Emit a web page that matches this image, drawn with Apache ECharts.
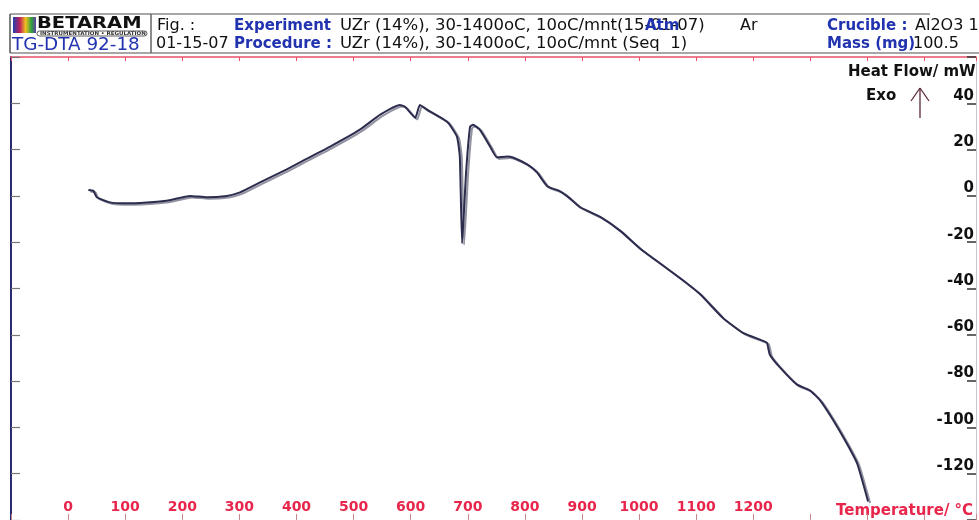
<!DOCTYPE html>
<html>
<head>
<meta charset="utf-8">
<script src="https://cdn.jsdelivr.net/npm/echarts@6/dist/echarts.min.js"></script>
<style>
html,body{margin:0;padding:0;background:#fff;}
#chart{width:979px;height:520px;}
</style>
</head>
<body>
<div id="chart"></div>
<script>
// Temperature (°C) and heat flow (mW)
const temps = [35.5, 44.3, 50.3, 73.5, 102.8, 137.8, 172.8, 213.6, 242.9, 277.9, 301.2, 336.2, 383,
  406, 459, 511, 546, 581, 590, 608, 616, 629, 664, 681, 686, 690, 697, 704, 709, 721, 739, 751,
  769, 779, 804, 821, 839, 861, 874, 896, 932, 967, 1002, 1037, 1072, 1107, 1147, 1182, 1217, 1224,
  1229, 1247, 1276, 1299, 1317, 1340, 1364, 1382, 1401];
const heatFlow = [2.6, 2.2, -0.6, -2.8, -3.2, -2.8, -2.1, 0.0, -0.6, 0.0, 1.5, 5.8, 11.5,
  14.5, 21.3, 28.6, 35.0, 39.3, 38.5, 33.7, 39.3, 37.2, 32.0, 25.6, 17.0, -20.5, 10.2, 29.9, 30.7, 28.6, 21.3, 16.6,
  17.0, 16.6, 13.6, 10.2, 4.2, 2.1, -0.1, -4.8, -9.1, -15.1, -22.8, -29.2, -35.6, -42.5, -52.8, -59.2, -62.6, -63.5,
  -68.6, -74.2, -81.4, -84.0, -88.3, -96.9, -107.1, -115.7, -132];
const xTickLabels = [0, 100, 200, 300, 400, 500, 600, 700, 800, 900, 1000, 1100, 1200];
const yTickLabels = [40, 20, 0, -20, -40, -60, -80, -100, -120];

const RED = '#e8264c';
const BLUE = '#2233b0';
const FONT = 'DejaVu Sans';

const chart = echarts.init(document.getElementById('chart'), null, {renderer: 'canvas'});

function txt(x, y, text, opts, scaleX) {
  return {
    type: 'text', x: x, y: y, scaleX: scaleX || 1,
    style: Object.assign({text: text, fill: '#111', font: '15px "' + FONT + '"', verticalAlign: 'middle', align: 'left'}, opts || {})
  };
}
function line(x1, y1, x2, y2, color, w) {
  return {type: 'line', shape: {x1: x1, y1: y1, x2: x2, y2: y2}, style: {stroke: color, lineWidth: w || 1}};
}
const boldF = 'bold 15px "' + FONT + '"';
const normF = '16px "' + FONT + '"';

const option = {
  animation: false,
  backgroundColor: '#fff',
  grid: {left: 11, top: 57, width: 965, height: 467, containLabel: false},
  xAxis: [
    {
      type: 'value', position: 'bottom', min: -100, max: 1590, interval: 100,
      axisLine: {show: false, onZero: false},
      axisTick: {show: true, inside: true, length: 6, lineStyle: {color: '#c88', width: 1}},
      axisLabel: {
        inside: true, margin: 6, color: RED, fontWeight: 'bold', fontSize: 14, fontFamily: FONT,
        formatter: v => xTickLabels.indexOf(v) >= 0 ? String(v) : ''
      },
      splitLine: {show: false}
    },
    {
      type: 'value', position: 'top', min: -100, max: 1590, interval: 100,
      axisLine: {show: true, onZero: false, lineStyle: {color: '#e8506a', width: 1.5}},
      axisTick: {show: true, inside: true, length: 4, lineStyle: {color: '#e8506a'}},
      axisLabel: {show: false},
      splitLine: {show: false}
    }
  ],
  yAxis: [
    {
      type: 'value', position: 'right', min: -140, max: 60, interval: 20,
      axisLine: {show: true, onZero: false, lineStyle: {color: '#c8c8d0', width: 1}},
      axisTick: {show: true, inside: true, length: 9, lineStyle: {color: '#333', width: 1.5}},
      axisLabel: {
        inside: true, margin: 2, color: '#111', fontWeight: 'bold', fontSize: 15, fontFamily: FONT,
        verticalAlign: 'bottom',
        formatter: v => yTickLabels.indexOf(v) >= 0 ? String(v) : ''
      },
      splitLine: {show: false}
    },
    {
      type: 'value', position: 'left', min: -140, max: 60, interval: 20,
      axisLine: {show: true, onZero: false, lineStyle: {color: '#2a2a6e', width: 2}},
      axisTick: {show: true, inside: true, length: 9, lineStyle: {color: '#777', width: 1.2}},
      axisLabel: {show: false},
      splitLine: {show: false}
    }
  ],
  series: [{
    type: 'line', xAxisIndex: 0, yAxisIndex: 0,
    data: temps.map((t, i) => [t, heatFlow[i]]),
    showSymbol: false, smooth: 0.15,
    lineStyle: {color: '#2c2c4e', width: 2, shadowColor: 'rgba(110,110,130,0.75)', shadowBlur: 0, shadowOffsetX: 2, shadowOffsetY: 1.5}
  }],
  graphic: [
    // header frame
    line(10, 14, 930, 14, '#8a8a8a', 1.5),
    line(10, 53, 979, 53, '#8a8a8a', 1.5),
    line(10, 14, 10, 53, '#555', 1.5),
    line(151, 14, 151, 53, '#666', 1.5),
    {
      type: 'rect', shape: {x: 13, y: 17, width: 23, height: 16},
      style: {fill: new echarts.graphic.LinearGradient(0, 0, 1, 0, [
        {offset: 0, color: '#1e3fb0'}, {offset: 0.3, color: '#c0205a'}, {offset: 0.55, color: '#f0c020'},
        {offset: 0.8, color: '#30a040'}, {offset: 1, color: '#6040a0'}])}
    },
    txt(37, 24, 'BETARAM', {font: 'bold 15px "' + FONT + '"', fill: '#111'}, 1.3),
    {type: 'rect', shape: {x: 37, y: 31, width: 110, height: 5, r: 2.5}, style: {fill: 'none', stroke: '#333', lineWidth: 0.8}},
    txt(40, 33.5, 'INSTRUMENTATION • REGULATION', {font: 'bold 5px "' + FONT + '"', fill: '#333'}, 1.1),
    txt(12, 46, 'TG-DTA 92-18', {font: '17px "' + FONT + '"', fill: BLUE}, 1.08),
    // row 1
    txt(157, 26, 'Fig. :', {font: normF}),
    txt(234, 26, 'Experiment', {font: boldF, fill: BLUE}),
    txt(340, 26, 'UZr (14%), 30-1400oC, 10oC/mnt(15-01-07)', {font: normF}, 1.03),
    txt(645, 26, 'Atm', {font: boldF, fill: BLUE}),
    txt(740, 26, 'Ar', {font: normF}),
    txt(827, 26, 'Crucible :', {font: boldF, fill: BLUE}),
    txt(915, 26, 'Al2O3 1', {font: normF}),
    // row 2
    txt(156, 44, '01-15-07', {font: normF}),
    txt(234, 44, 'Procedure :', {font: boldF, fill: BLUE}),
    txt(340, 44, 'UZr (14%), 30-1400oC, 10oC/mnt (Seq  1)', {font: normF}, 1.03),
    txt(827, 44, 'Mass (mg)', {font: boldF, fill: BLUE}),
    txt(913, 44, '100.5', {font: normF}),
    // axis titles
    txt(848, 72, 'Heat Flow/ mW', {font: boldF}),
    txt(866, 96, 'Exo', {font: boldF}),
    line(920, 88, 920, 118, '#5a2a3a', 1.3),
    line(920, 88, 911, 101, '#5a2a3a', 1.3),
    line(920, 88, 929, 101, '#5a2a3a', 1.3),
    txt(836, 511, 'Temperature/ °C', {font: 'bold 15px "' + FONT + '"', fill: RED})
  ]
};
chart.setOption(option);
</script>
</body>
</html>
